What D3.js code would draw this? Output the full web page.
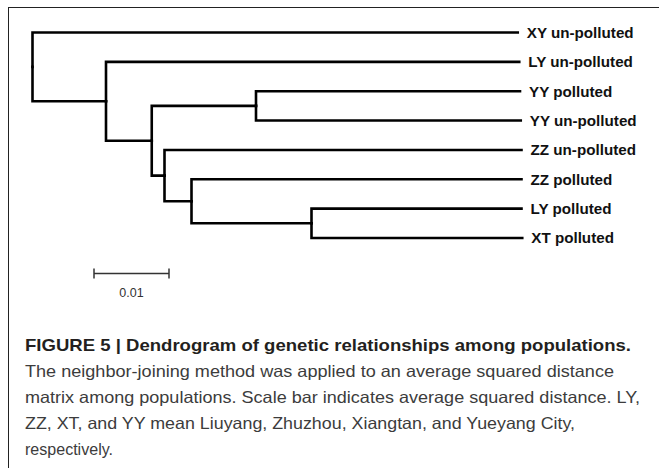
<!DOCTYPE html>
<html>
<head>
<meta charset="utf-8">
<script src="https://cdn.jsdelivr.net/npm/d3@7/dist/d3.min.js"></script>
<style>
  html, body { margin: 0; padding: 0; background: #fff; }
  svg { display: block; }
</style>
</head>
<body>
<svg id="chart" width="659" height="468"></svg>
<script>
// ---- Data: tree nodes, parents and branch lengths (average squared distance) ----
const nodeIds = ["root", "n1", "n2", "n3", "n4", "n5", "n6",
  "XY un-polluted", "LY un-polluted", "YY polluted", "YY un-polluted",
  "ZZ un-polluted", "ZZ polluted", "LY polluted", "XT polluted"];
const nodeParents = ["", "root", "n1", "n2", "n2", "n4", "n5",
  "root", "n1", "n3", "n3", "n4", "n5", "n6", "n6"];
const branchLengths = [0, 0.0098, 0.0061, 0.0139, 0.0017, 0.0036, 0.0160,
  0.0647, 0.0551, 0.0352, 0.0353, 0.0476, 0.0440, 0.0280, 0.0281];
// order in which children are listed (root first child = XY un-polluted)
const childOrder = ["XY un-polluted", "n1", "LY un-polluted", "n2", "n3", "n4",
  "YY polluted", "YY un-polluted", "ZZ un-polluted", "n5", "ZZ polluted", "n6",
  "LY polluted", "XT polluted"];
const scaleBarValue = 0.01;
const scaleBarLabel = "0.01";

const captionTitle = "FIGURE 5 | Dendrogram of genetic relationships among populations.";
const captionLines = [
  "The neighbor-joining method was applied to an average squared distance",
  "matrix among populations. Scale bar indicates average squared distance. LY,",
  "ZZ, XT, and YY mean Liuyang, Zhuzhou, Xiangtan, and Yueyang City,",
  "respectively."
];

// ---- Build hierarchy ----
const table = nodeIds.map((id, i) => ({ id, parent: nodeParents[i] || null, len: branchLengths[i] }));
const root = d3.stratify().id(d => d.id).parentId(d => d.parent)(table);
root.sort((a, b) => childOrder.indexOf(a.id) - childOrder.indexOf(b.id));
// cumulative distance from root
root.eachBefore(n => { n.dist = n.parent ? n.parent.dist + n.data.len : 0; });

d3.cluster().size([1, 1]).separation(() => 1)(root);
const leaves = root.leaves();

const svg = d3.select("#chart");

// frame
svg.append("line").attr("x1", 8).attr("x2", 659).attr("y1", 7.5).attr("y2", 7.5)
  .attr("stroke", "#222").attr("stroke-width", 1);
svg.append("line").attr("x1", 8.5).attr("x2", 8.5).attr("y1", 7).attr("y2", 468)
  .attr("stroke", "#222").attr("stroke-width", 1);

// scales
const xScale = d3.scaleLinear().domain([0, 0.01]).range([32.5, 107.5]);
const yScale = d3.scaleLinear()
  .domain([d3.min(leaves, d => d.x), d3.max(leaves, d => d.x)])
  .range([32.5, 238]);

const g = svg.append("g");

// branches (elbow)
g.selectAll("path.branch")
  .data(root.links())
  .join("path")
  .attr("class", "branch")
  .attr("d", l => {
    const px = xScale(l.source.dist), py = yScale(l.source.x);
    const cx = xScale(l.target.dist), cy = yScale(l.target.x);
    return `M${px},${py}V${cy}H${cx}`;
  })
  .attr("fill", "none")
  .attr("stroke", "#000")
  .attr("stroke-width", 2.6)
  .attr("stroke-linecap", "square")
  .attr("stroke-linejoin", "miter");

// leaf labels
g.selectAll("text.leaf")
  .data(leaves)
  .join("text")
  .attr("class", "leaf")
  .attr("x", d => xScale(d.dist) + 9)
  .attr("y", d => yScale(d.x) + 5.3)
  .attr("font-family", "'Liberation Sans', Arial, Helvetica, sans-serif")
  .attr("font-weight", "bold")
  .attr("font-size", 15.2)
  .attr("fill", "#111")
  .text(d => d.id);

// scale bar
const sbX0 = 94, sbY = 273.5;
const sbLen = xScale(scaleBarValue) - xScale(0);
const sb = svg.append("g").attr("stroke", "#333").attr("stroke-width", 1.5);
sb.append("line").attr("x1", sbX0).attr("x2", sbX0 + sbLen).attr("y1", sbY).attr("y2", sbY);
sb.append("line").attr("x1", sbX0).attr("x2", sbX0).attr("y1", sbY - 5).attr("y2", sbY + 5);
sb.append("line").attr("x1", sbX0 + sbLen).attr("x2", sbX0 + sbLen).attr("y1", sbY - 5).attr("y2", sbY + 5);
svg.append("text")
  .attr("x", sbX0 + sbLen / 2).attr("y", 297)
  .attr("text-anchor", "middle")
  .attr("font-family", "'Liberation Sans', Arial, sans-serif")
  .attr("font-size", 12.5)
  .attr("fill", "#333")
  .text(scaleBarLabel);

// caption
const capX = 25;
const lineYs = [351, 377, 403, 429, 455];
const lineWidths = [606, 589, 615, 550, 88];
svg.append("text")
  .attr("x", capX).attr("y", lineYs[0])
  .attr("font-family", "'Liberation Sans', Arial, Helvetica, sans-serif")
  .attr("font-weight", "bold")
  .attr("font-size", 17)
  .attr("fill", "#231f20")
  .attr("textLength", lineWidths[0])
  .attr("lengthAdjust", "spacingAndGlyphs")
  .text(captionTitle);
captionLines.forEach((t, i) => {
  svg.append("text")
    .attr("x", capX).attr("y", lineYs[i + 1])
    .attr("font-family", "'Liberation Sans', Arial, Helvetica, sans-serif")
    .attr("font-size", 16.5)
    .attr("fill", "#3c3c3c")
    .attr("textLength", lineWidths[i + 1])
    .attr("lengthAdjust", "spacingAndGlyphs")
    .text(t);
});
</script>
</body>
</html>
